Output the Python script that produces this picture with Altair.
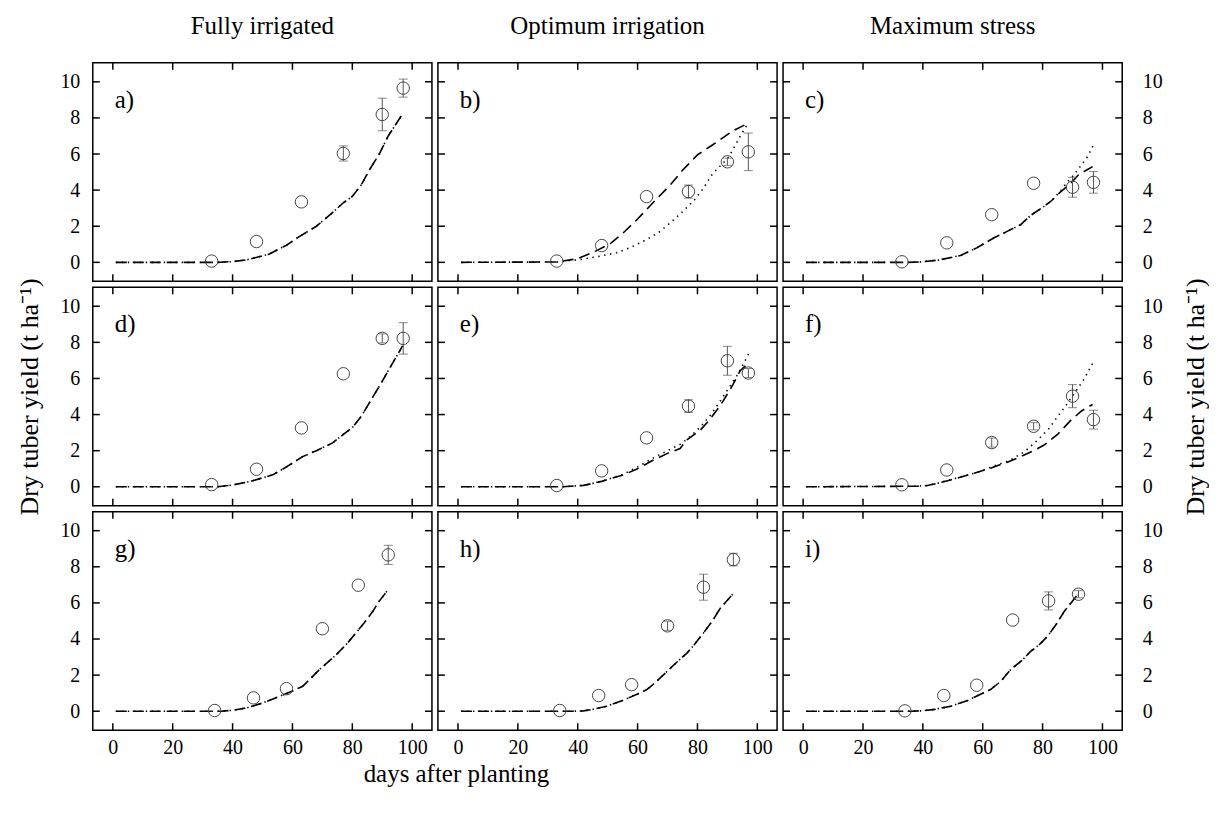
import altair as alt
import pandas as pd

FONT = "Liberation Serif"

X_DOMAIN = [-6.7, 106.6]
Y_DOMAIN = [-1.05, 11.05]
X_TICKS = [0, 20, 40, 60, 80, 100]
Y_TICKS = [0, 2, 4, 6, 8, 10]

COL_TITLES = ["Fully irrigated", "Optimum irrigation", "Maximum stress"]
PANEL_LABELS = ["a)", "b)", "c)", "d)", "e)", "f)", "g)", "h)", "i)"]
Y_TITLE = "Dry tuber yield (t ha\u207b\u00b9)"
X_TITLE = "days after planting"

# observation days
OBS_DAYS_12 = [33, 48, 63, 77, 90, 97]
OBS_DAYS_3 = [34, 47, 58, 70, 82, 92]

# observed dry tuber yield and error (t/ha)
A_OBS = [0.07, 1.15, 3.35, 6.03, 8.19, 9.65]
A_ERR = [0, 0, 0, 0.42, 0.9, 0.5]
B_OBS = [0.07, 0.93, 3.64, 3.92, 5.57, 6.12]
B_ERR = [0, 0, 0, 0.36, 0.2, 1.04]
C_OBS = [0.03, 1.08, 2.64, 4.38, 4.16, 4.43]
C_ERR = [0, 0, 0, 0, 0.55, 0.6]
D_OBS = [0.12, 0.97, 3.26, 6.26, 8.22, 8.22]
D_ERR = [0, 0, 0, 0, 0.25, 0.87]
E_OBS = [0.07, 0.88, 2.71, 4.47, 6.98, 6.3]
E_ERR = [0, 0, 0, 0.35, 0.8, 0.25]
F_OBS = [0.11, 0.93, 2.45, 3.35, 5.02, 3.72]
F_ERR = [0, 0, 0.25, 0.2, 0.64, 0.52]
G_OBS = [0.04, 0.74, 1.25, 4.57, 6.98, 8.66]
G_ERR = [0, 0, 0, 0, 0, 0.53]
H_OBS = [0.04, 0.87, 1.47, 4.73, 6.87, 8.4]
H_ERR = [0, 0, 0, 0.25, 0.72, 0.35]
I_OBS = [0.02, 0.87, 1.44, 5.05, 6.11, 6.48]
I_ERR = [0, 0, 0, 0, 0.5, 0.2]

# simulated series: dashed model
A_DASH_D = [1, 35, 40, 45, 52, 58, 62, 68, 73, 77, 80, 83, 86, 89, 92, 96.5]
A_DASH_Y = [0, 0, 0.04, 0.15, 0.44, 0.95, 1.4, 2.0, 2.7, 3.3, 3.65, 4.3, 5.2, 6.0, 7.0, 8.15]
B_DASH_D = [1, 33, 40, 46, 51, 55, 60, 66, 71, 75, 80, 85, 92, 97.5]
B_DASH_Y = [0, 0.02, 0.2, 0.62, 1.05, 1.6, 2.4, 3.45, 4.3, 5.1, 5.95, 6.5, 7.3, 7.75]
C_DASH_D = [1, 35, 39, 45, 52.6, 58, 63.8, 68, 72.7, 76, 80.5, 82.7, 86, 89.4, 92, 96.7]
C_DASH_Y = [0, 0, 0.02, 0.12, 0.38, 0.8, 1.36, 1.7, 2.09, 2.6, 3.1, 3.37, 3.9, 4.38, 4.85, 5.3]
D_DASH_D = [1, 35, 40, 46, 53.4, 58, 63.4, 68, 73.4, 77, 80, 83, 86.8, 89.5, 92.3, 96.8]
D_DASH_Y = [0, 0, 0.1, 0.3, 0.66, 1.1, 1.67, 2.0, 2.43, 2.9, 3.28, 3.9, 4.96, 5.7, 6.52, 7.8]
E_DASH_D = [1, 35, 42, 48, 55.3, 60, 65.3, 70, 74.2, 76.5, 80.9, 84, 87.6, 91, 94.3, 96]
E_DASH_Y = [0, 0, 0.08, 0.3, 0.66, 1.0, 1.48, 1.85, 2.12, 2.6, 3.13, 3.7, 4.5, 5.4, 6.43, 6.7]
F_DASH_D = [1, 38, 41.5, 45, 49.3, 55, 62.6, 68, 72.7, 77, 80.5, 85, 89.4, 93, 96.7]
F_DASH_Y = [0, 0.03, 0.07, 0.2, 0.38, 0.65, 1.03, 1.35, 1.67, 2.0, 2.31, 2.9, 3.68, 4.2, 4.56]
G_DASH_D = [1, 36, 40, 44.6, 50, 55.7, 60, 63.4, 66, 69, 74.6, 78, 81.2, 84, 86.8, 89, 91.8]
G_DASH_Y = [0, 0, 0.05, 0.18, 0.45, 0.83, 1.12, 1.38, 1.8, 2.3, 3.13, 3.7, 4.33, 4.9, 5.52, 6.1, 6.7]
H_DASH_D = [1, 38, 41.9, 45, 49.7, 55, 60, 63.1, 66, 69.8, 73, 76.5, 79, 82, 85, 87.6, 90, 92.1]
H_DASH_Y = [0, 0, 0.02, 0.1, 0.28, 0.6, 0.95, 1.2, 1.6, 2.2, 2.7, 3.22, 3.7, 4.33, 5.0, 5.7, 6.15, 6.54]
I_DASH_D = [1, 36, 39.2, 44, 49.3, 55, 60, 62.6, 66, 69.3, 73, 76, 79, 81.6, 84.5, 87.2, 89.5, 91.6]
I_DASH_Y = [0, 0, 0.02, 0.1, 0.28, 0.6, 1.0, 1.2, 1.65, 2.3, 2.8, 3.31, 3.7, 4.14, 4.8, 5.52, 6.0, 6.45]

# simulated series: dotted model
A_DOT_D = A_DASH_D
A_DOT_Y = A_DASH_Y
B_DOT_D = [1, 33, 41, 47, 53, 58, 63, 67, 71, 75, 79, 82, 85, 88, 90.5, 94, 96.5]
B_DOT_Y = [0, 0.02, 0.16, 0.33, 0.53, 0.85, 1.26, 1.65, 2.2, 2.8, 3.46, 4.1, 4.9, 5.4, 5.85, 6.9, 7.6]
C_DOT_D = [1, 35, 39, 45, 52.6, 58, 63.8, 68, 72.7, 76, 80.5, 82.7, 86, 88, 90.5, 93, 95, 97]
C_DOT_Y = [0, 0, 0.02, 0.12, 0.38, 0.8, 1.36, 1.7, 2.09, 2.6, 3.1, 3.37, 3.95, 4.4, 4.85, 5.4, 5.85, 6.5]
D_DOT_D = D_DASH_D
D_DOT_Y = D_DASH_Y
E_DOT_D = [1, 35, 42, 48, 55.3, 60, 65.3, 70, 74.2, 77, 80.9, 84.3, 87, 89.9, 93, 95, 97.3]
E_DOT_Y = [0, 0, 0.08, 0.3, 0.7, 1.1, 1.6, 2.0, 2.35, 2.7, 3.3, 3.96, 4.6, 5.33, 6.1, 6.7, 7.43]
F_DOT_D = [1, 38, 41.5, 45, 49.3, 55, 58.2, 63, 69.3, 74, 78.3, 82, 84.9, 88, 90.5, 94, 96.7]
F_DOT_Y = [0, 0.03, 0.07, 0.2, 0.4, 0.65, 0.8, 1.1, 1.48, 1.95, 2.58, 3.2, 3.86, 4.55, 5.15, 6.0, 6.83]
G_DOT_D = G_DASH_D
G_DOT_Y = G_DASH_Y
H_DOT_D = H_DASH_D
H_DOT_Y = H_DASH_Y
I_DOT_D = I_DASH_D
I_DOT_Y = I_DASH_Y

PANELS = [
    (A_OBS, A_ERR, A_DASH_D, A_DASH_Y, A_DOT_D, A_DOT_Y),
    (B_OBS, B_ERR, B_DASH_D, B_DASH_Y, B_DOT_D, B_DOT_Y),
    (C_OBS, C_ERR, C_DASH_D, C_DASH_Y, C_DOT_D, C_DOT_Y),
    (D_OBS, D_ERR, D_DASH_D, D_DASH_Y, D_DOT_D, D_DOT_Y),
    (E_OBS, E_ERR, E_DASH_D, E_DASH_Y, E_DOT_D, E_DOT_Y),
    (F_OBS, F_ERR, F_DASH_D, F_DASH_Y, F_DOT_D, F_DOT_Y),
    (G_OBS, G_ERR, G_DASH_D, G_DASH_Y, G_DOT_D, G_DOT_Y),
    (H_OBS, H_ERR, H_DASH_D, H_DASH_Y, H_DOT_D, H_DOT_Y),
    (I_OBS, I_ERR, I_DASH_D, I_DASH_Y, I_DOT_D, I_DOT_Y),
]

W, H = 340, 219
TICK_LEN = 7


def make_panel(idx):
    row, col = divmod(idx, 3)
    obs, err, dd, dy, td, ty = PANELS[idx]
    days = OBS_DAYS_3 if row == 2 else OBS_DAYS_12

    xs = alt.Scale(domain=X_DOMAIN, nice=False, zero=False)
    ys = alt.Scale(domain=Y_DOMAIN, nice=False, zero=False)

    # axes
    if row == 2:
        if col == 1:
            x_axis = alt.Axis(values=X_TICKS, title=X_TITLE, titleX=18, titleY=43,
                              titleAlign="center", titleBaseline="middle")
        else:
            x_axis = alt.Axis(values=X_TICKS, title=None)
    else:
        x_axis = None
    if col == 0:
        y_axis = alt.Axis(values=Y_TICKS, title=Y_TITLE if row == 1 else None,
                          orient="left", labelPadding=13, titlePadding=17,
                          titleFontSize=26)
    elif col == 2:
        y_axis = alt.Axis(values=Y_TICKS, title=Y_TITLE if row == 1 else None,
                          orient="right", labelPadding=20, titlePadding=46,
                          labelAlign="left", titleAngle=270, titleFontSize=26)
    else:
        y_axis = None

    def X(field):
        return alt.X(f"{field}:Q", scale=xs, axis=x_axis)

    def Y(field):
        return alt.Y(f"{field}:Q", scale=ys, axis=y_axis)

    dash_df = pd.DataFrame({"d": dd, "v": dy})
    dot_df = pd.DataFrame({"d": td, "v": ty})
    obs_df = pd.DataFrame({"d": days, "v": obs, "e": err})
    obs_df["lo"] = obs_df["v"] - obs_df["e"]
    obs_df["hi"] = obs_df["v"] + obs_df["e"]
    err_df = obs_df[obs_df["e"] > 0]

    dashed = alt.Chart(dash_df).mark_line(
        color="black", strokeWidth=1.6, strokeDash=[11, 6], clip=True
    ).encode(x=X("d"), y=Y("v"))
    dotted = alt.Chart(dot_df).mark_line(
        color="black", strokeWidth=1.6, strokeDash=[1.4, 4.6], clip=True
    ).encode(x=X("d"), y=Y("v"))

    layers = [dashed, dotted]
    if len(err_df):
        bars = alt.Chart(err_df).mark_rule(color="#555555", strokeWidth=1).encode(
            x=X("d"), y=Y("lo"), y2="hi:Q"
        )
        cap_lo = alt.Chart(err_df).mark_tick(
            color="#555555", orient="horizontal", size=9, thickness=1
        ).encode(x=X("d"), y=Y("lo"))
        cap_hi = alt.Chart(err_df).mark_tick(
            color="#555555", orient="horizontal", size=9, thickness=1
        ).encode(x=X("d"), y=Y("hi"))
        layers += [bars, cap_lo, cap_hi]

    pts = alt.Chart(obs_df).mark_point(
        shape="circle", size=155, filled=False, color="#444444", strokeWidth=1,
        opacity=1, fill="white", fillOpacity=0
    ).encode(x=X("d"), y=Y("v"))
    layers.append(pts)

    xt = pd.DataFrame({"t": X_TICKS})
    yt = pd.DataFrame({"t": Y_TICKS})
    tick_top = alt.Chart(xt).mark_rule(color="black", strokeWidth=1.5).encode(
        x=X("t"), y=alt.value(0), y2=alt.value(TICK_LEN))
    tick_bot = alt.Chart(xt).mark_rule(color="black", strokeWidth=1.5).encode(
        x=X("t"), y=alt.value(H), y2=alt.value(H - TICK_LEN))
    tick_left = alt.Chart(yt).mark_rule(color="black", strokeWidth=1.5).encode(
        y=Y("t"), x=alt.value(0), x2=alt.value(TICK_LEN))
    tick_right = alt.Chart(yt).mark_rule(color="black", strokeWidth=1.5).encode(
        y=Y("t"), x=alt.value(W), x2=alt.value(W - TICK_LEN))
    layers += [tick_top, tick_bot, tick_left, tick_right]

    lab = alt.Chart(pd.DataFrame({"s": [PANEL_LABELS[idx]]})).mark_text(
        align="left", baseline="middle", font=FONT, fontSize=25, color="black"
    ).encode(text="s:N", x=alt.value(22), y=alt.value(37))
    layers.append(lab)

    ch = alt.layer(*layers).properties(width=W, height=H)
    if row == 0:
        ch = ch.properties(title=alt.Title(COL_TITLES[col], offset=23))
    return ch


panels = [make_panel(i) for i in range(9)]

chart = alt.concat(*panels, columns=3, spacing=6, bounds="flush").properties(
    padding={"left": 8, "top": 4, "right": 0, "bottom": 5}
).configure_view(
    stroke="black", strokeWidth=1.5
).configure_axis(
    domain=False, ticks=False, grid=False,
    labelFont=FONT, labelFontSize=20, labelColor="black",
    titleFont=FONT, titleFontSize=25, titleFontWeight="normal", titleColor="black",
).configure_axisBottom(labelPadding=7).configure_title(
    font=FONT, fontSize=25, fontWeight="normal", color="black", anchor="middle"
)

chart.save("out.html", embed_options={"renderer": "svg", "actions": False})
